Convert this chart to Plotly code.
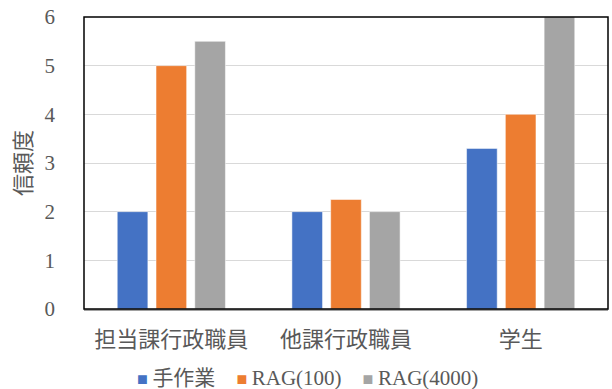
import plotly.graph_objects as go

categories = ["担当課行政職員", "他課行政職員", "学生"]
series_names = ["手作業", "RAG(100)", "RAG(4000)"]
manual = [2, 2, 3.3]
rag100 = [5, 2.25, 4]
rag4000 = [5.5, 2, 6]
colors = ["#4472C4", "#ED7D31", "#A5A5A5"]
y_ticks = [0, 1, 2, 3, 4, 5, 6]

FONT = "Liberation Serif, Noto Sans CJK JP, serif"
TXT = "#595959"

fig = go.Figure()
for name, vals, c in zip(series_names, [manual, rag100, rag4000], colors):
    fig.add_trace(go.Bar(
        x=categories, y=vals, name=name,
        marker=dict(color=c, line=dict(color="rgba(255,255,255,0.5)", width=1)),
    ))

legend_text = "&nbsp;&nbsp;&nbsp;&nbsp;".join(
    f"<span style='color:{c};font-size:18px'>■&nbsp;</span>{n}" for n, c in zip(series_names, colors)
)

fig.update_layout(
    width=612, height=389,
    margin=dict(l=84, r=4, t=17, b=80, autoexpand=False),
    paper_bgcolor="white", plot_bgcolor="white",
    barmode="group", bargap=0.334, bargroupgap=0.21,
    font=dict(family=FONT, size=21, color=TXT),
    showlegend=False,
    annotations=[dict(text=legend_text, xref="paper", yref="paper", x=(307 - 84) / 524,
                      y=1 - (378 - 17) / 292, xanchor="center", yanchor="middle",
                      showarrow=False, font=dict(size=21, color=TXT))],
    shapes=[dict(type="rect", xref="paper", yref="paper", x0=0, x1=1, y0=0, y1=1,
                 line=dict(color="black", width=1.5), layer="above")],
)
fig.update_xaxes(
    showgrid=False, showline=True, linecolor="#a0a0a0", linewidth=1.5, automargin=False,
    tickfont=dict(size=22, color=TXT), ticks="", ticklabelstandoff=10,
)
fig.update_yaxes(
    range=[0, 6], tickvals=y_ticks, showgrid=True, gridcolor="#d9d9d9", gridwidth=1,
    zeroline=False, showline=False, ticks="", ticklabelstandoff=28, automargin=False,
    tickfont=dict(size=21, color=TXT),
    title=dict(text="信頼度", font=dict(size=22, color=TXT), standoff=6),
)
fig.write_html("out.html")
